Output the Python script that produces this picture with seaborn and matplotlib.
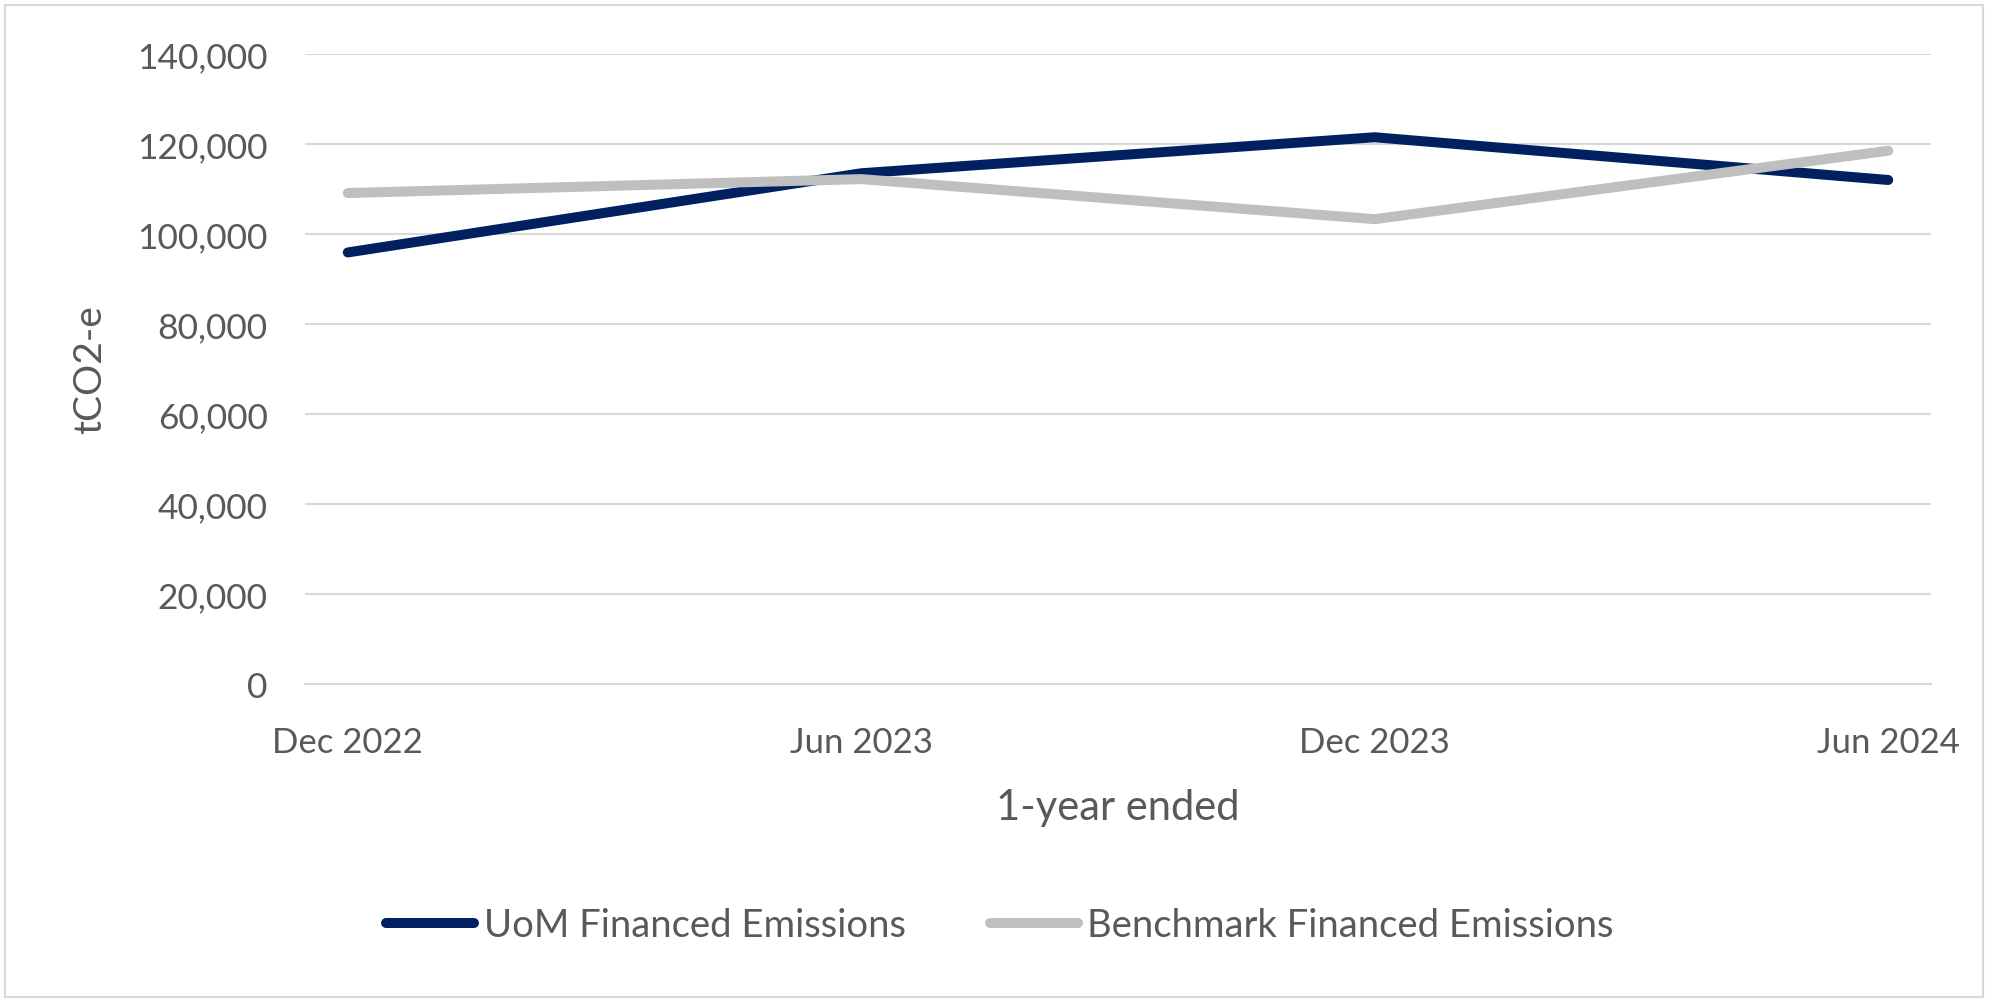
import matplotlib
matplotlib.use("Agg")
import matplotlib.pyplot as plt
import seaborn as sns
import pandas as pd
from matplotlib.patches import Rectangle
from matplotlib.ticker import FuncFormatter, FixedLocator

# ---- data ----
periods = ["Dec 2022", "Jun 2023", "Dec 2023", "Jun 2024"]
uom_emissions = [95900, 113500, 121500, 112000]
benchmark_emissions = [109100, 112200, 103300, 118500]
series_names = ["UoM Financed Emissions", "Benchmark Financed Emissions"]
y_ticks = [0, 20000, 40000, 60000, 80000, 100000, 120000, 140000]

# month-slot axis (Excel date axis, base unit months, between tick marks)
dt = pd.to_datetime(periods, format="%b %Y")
base = dt[0]
month_idx = [(d.year - base.year) * 12 + (d.month - base.month) for d in dt]
xpos = [m + 0.5 for m in month_idx]

df = pd.concat([
    pd.DataFrame({"x": xpos, "value": uom_emissions, "series": series_names[0]}),
    pd.DataFrame({"x": xpos, "value": benchmark_emissions, "series": series_names[1]}),
])

sns.set_theme(style="white")
plt.rcParams["font.family"] = ["Lato", "DejaVu Sans"]

TEXT = "#595959"
GRID = "#D9D9D9"
W, H = 1989, 1003
fig = plt.figure(figsize=(W / 100, H / 100), dpi=100)
fig.patch.set_facecolor("white")
ax = fig.add_axes([305 / W, 1 - 685 / H, (1931 - 305) / W, (685 - 55) / H])

palette = {series_names[0]: "#002060", series_names[1]: "#BFBFBF"}
sns.lineplot(data=df, x="x", y="value", hue="series", palette=palette,
             linewidth=7.2, ax=ax, legend=True, sort=False)
for ln in ax.get_lines():
    ln.set_solid_capstyle("round")
    ln.set_solid_joinstyle("round")

# axes limits
ax.set_ylim(0, 140000)
ax.set_xlim(0, month_idx[-1] + 1)

# y axis
ax.set_yticks(y_ticks)
ax.yaxis.set_major_formatter(FuncFormatter(lambda v, p: f"{int(v):,}"))
ax.tick_params(axis="y", length=0, pad=27, labelsize=25.5, labelcolor=TEXT)
ax.grid(axis="y", color=GRID, linewidth=1.5)
ax.set_axisbelow(True)

# x axis: tick marks at slot boundaries, labels at slot centres
ax.xaxis.set_major_locator(FixedLocator(month_idx))
ax.xaxis.set_minor_locator(FixedLocator(xpos))
ax.set_xticklabels([""] * len(month_idx))
ax.set_xticklabels(periods, minor=True)
ax.tick_params(axis="x", which="major", length=9.5, width=1.5, color=GRID, direction="out")
ax.tick_params(axis="x", which="minor", length=0, pad=30, labelsize=25, labelcolor=TEXT)

for s in ["top", "right", "left"]:
    ax.spines[s].set_visible(False)
ax.spines["bottom"].set_color(GRID)
ax.spines["bottom"].set_linewidth(1.5)

ax.set_xlabel("1-year ended", fontsize=30, color=TEXT)
ax.xaxis.set_label_coords(0.5, (685 - 808) / 630)
ax.xaxis.label.set_verticalalignment("center")
ax.set_ylabel("tCO2-e", fontsize=28, color=TEXT)
ax.yaxis.set_label_coords((90 - 305) / 1626, 0.5)
ax.yaxis.label.set_verticalalignment("center")

# legend
handles, labels = ax.get_legend_handles_labels()
ax.get_legend().remove()
for h in handles:
    h.set_solid_capstyle("round")
leg = fig.legend(handles, labels, loc="center", bbox_to_anchor=(1000 / W, 1 - 926 / H),
                 ncol=2, frameon=False, fontsize=27.5, handlelength=2.3,
                 handletextpad=0.25, columnspacing=2.2)
for t in leg.get_texts():
    t.set_color(TEXT)

# outer chart border
fig.add_artist(Rectangle((5 / W, 5 / H), (W - 11) / W, (H - 11) / H,
                         transform=fig.transFigure, fill=False,
                         edgecolor=GRID, linewidth=1.5))

fig.savefig("out.png", dpi=100)
